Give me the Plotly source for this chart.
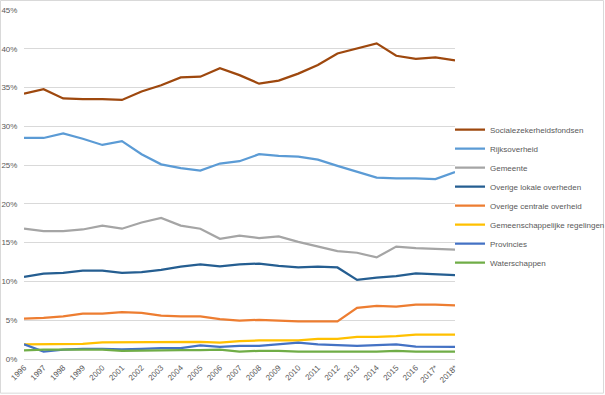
import plotly.graph_objects as go

years = ["1996", "1997", "1998", "1999", "2000", "2001", "2002", "2003", "2004", "2005",
         "2006", "2007", "2008", "2009", "2010", "2011", "2012", "2013", "2014", "2015",
         "2016", "2017*", "2018*"]

socialezekerheidsfondsen = [34.2, 34.8, 33.6, 33.5, 33.5, 33.4, 34.5, 35.3, 36.3, 36.4,
                            37.5, 36.6, 35.5, 35.9, 36.8, 37.9, 39.4, 40.1, 40.7, 39.1,
                            38.7, 38.9, 38.5]
rijksoverheid = [28.5, 28.5, 29.1, 28.4, 27.6, 28.1, 26.4, 25.1, 24.6, 24.3,
                 25.2, 25.5, 26.4, 26.2, 26.1, 25.7, 24.9, 24.2, 23.4, 23.3,
                 23.3, 23.2, 24.1]
gemeente = [16.8, 16.5, 16.5, 16.7, 17.2, 16.8, 17.6, 18.2, 17.2, 16.8,
            15.5, 15.9, 15.6, 15.8, 15.1, 14.5, 13.9, 13.7, 13.1, 14.5,
            14.3, 14.2, 14.1]
overige_lokale = [10.6, 11.0, 11.1, 11.4, 11.4, 11.1, 11.2, 11.5, 11.9, 12.2,
                  11.95, 12.2, 12.3, 12.0, 11.8, 11.9, 11.8, 10.2, 10.5, 10.7,
                  11.05, 10.95, 10.8]
overige_centrale = [5.2, 5.3, 5.5, 5.85, 5.85, 6.05, 5.95, 5.6, 5.5, 5.5,
                    5.15, 4.95, 5.05, 4.95, 4.85, 4.85, 4.85, 6.6, 6.85, 6.75,
                    7.0, 7.0, 6.9]
gemeenschappelijke = [1.9, 1.9, 1.95, 1.95, 2.15, 2.15, 2.15, 2.15, 2.15, 2.2,
                      2.1, 2.3, 2.4, 2.4, 2.4, 2.6, 2.6, 2.85, 2.85, 2.95,
                      3.15, 3.15, 3.15]
provincies = [1.9, 0.95, 1.2, 1.3, 1.3, 1.25, 1.3, 1.4, 1.4, 1.75,
              1.55, 1.7, 1.7, 1.9, 2.1, 1.9, 1.8, 1.7, 1.8, 1.9,
              1.6, 1.6, 1.55]
waterschappen = [1.1, 1.2, 1.2, 1.2, 1.2, 1.05, 1.1, 1.15, 1.15, 1.15,
                 1.2, 0.95, 1.05, 1.05, 0.95, 0.95, 0.95, 0.95, 0.95, 1.05,
                 0.95, 0.95, 0.95]

series = [
    ("Socialezekerheidsfondsen", socialezekerheidsfondsen, "#9E480E"),
    ("Rijksoverheid", rijksoverheid, "#5B9BD5"),
    ("Gemeente", gemeente, "#A5A5A5"),
    ("Overige lokale overheden", overige_lokale, "#255E91"),
    ("Overige centrale overheid", overige_centrale, "#ED7D31"),
    ("Gemeenschappelijke regelingen", gemeenschappelijke, "#FFC000"),
    ("Provincies", provincies, "#4472C4"),
    ("Waterschappen", waterschappen, "#70AD47"),
]

fig = go.Figure()
for name, vals, color in series:
    fig.add_trace(go.Scatter(x=years, y=vals, name=name, mode="lines",
                             line=dict(color=color, width=2.25)))

W, H = 605, 395
PL, PR, PT, PB = 24, 455, 10, 359.3   # plot area in pixels
L, T, R, B = PL, PT, W - PR, H - PB
pw, ph = PR - PL, PB - PT

def px_x(p):
    return (p - PL) / pw

def px_y(p):
    return (PB - p) / ph

font = dict(family="Liberation Sans, Arial, sans-serif", size=8, color="#595959")

fig.update_layout(
    width=W, height=H,
    margin=dict(l=L, r=R, t=T, b=B, pad=0, autoexpand=False),
    paper_bgcolor="white", plot_bgcolor="white",
    font=font,
    showlegend=True,
    legend=dict(x=px_x(450), y=px_y(196.3), xanchor="left", yanchor="middle",
                font=dict(family="Liberation Sans, Arial, sans-serif", size=8, color="#595959"),
                bgcolor="rgba(0,0,0,0)", tracegroupgap=0, itemwidth=30),
    xaxis=dict(type="category", tickangle=-45, showgrid=False, zeroline=False,
               showline=True, linecolor="#D9D9D9", linewidth=1, automargin=False,
               ticks="", tickfont=font),
    yaxis=dict(range=[0, 45], dtick=5, tick0=0, ticksuffix="%", showgrid=True,
               gridcolor="#D9D9D9", gridwidth=1, zeroline=False, showline=False,
               automargin=False,
               ticks="outside", ticklen=4, tickcolor="rgba(0,0,0,0)", tickfont=font),
    shapes=[dict(type="rect", xref="paper", yref="paper",
                 x0=px_x(0.5), x1=px_x(603.5), y0=px_y(393.5), y1=px_y(0.5),
                 line=dict(color="#D9D9D9", width=1), fillcolor="rgba(0,0,0,0)",
                 layer="below")],
)

fig.write_html("out.html",
               config={"displayModeBar": False},
               post_script="document.body.style.margin='0';document.body.style.overflow='hidden';")
